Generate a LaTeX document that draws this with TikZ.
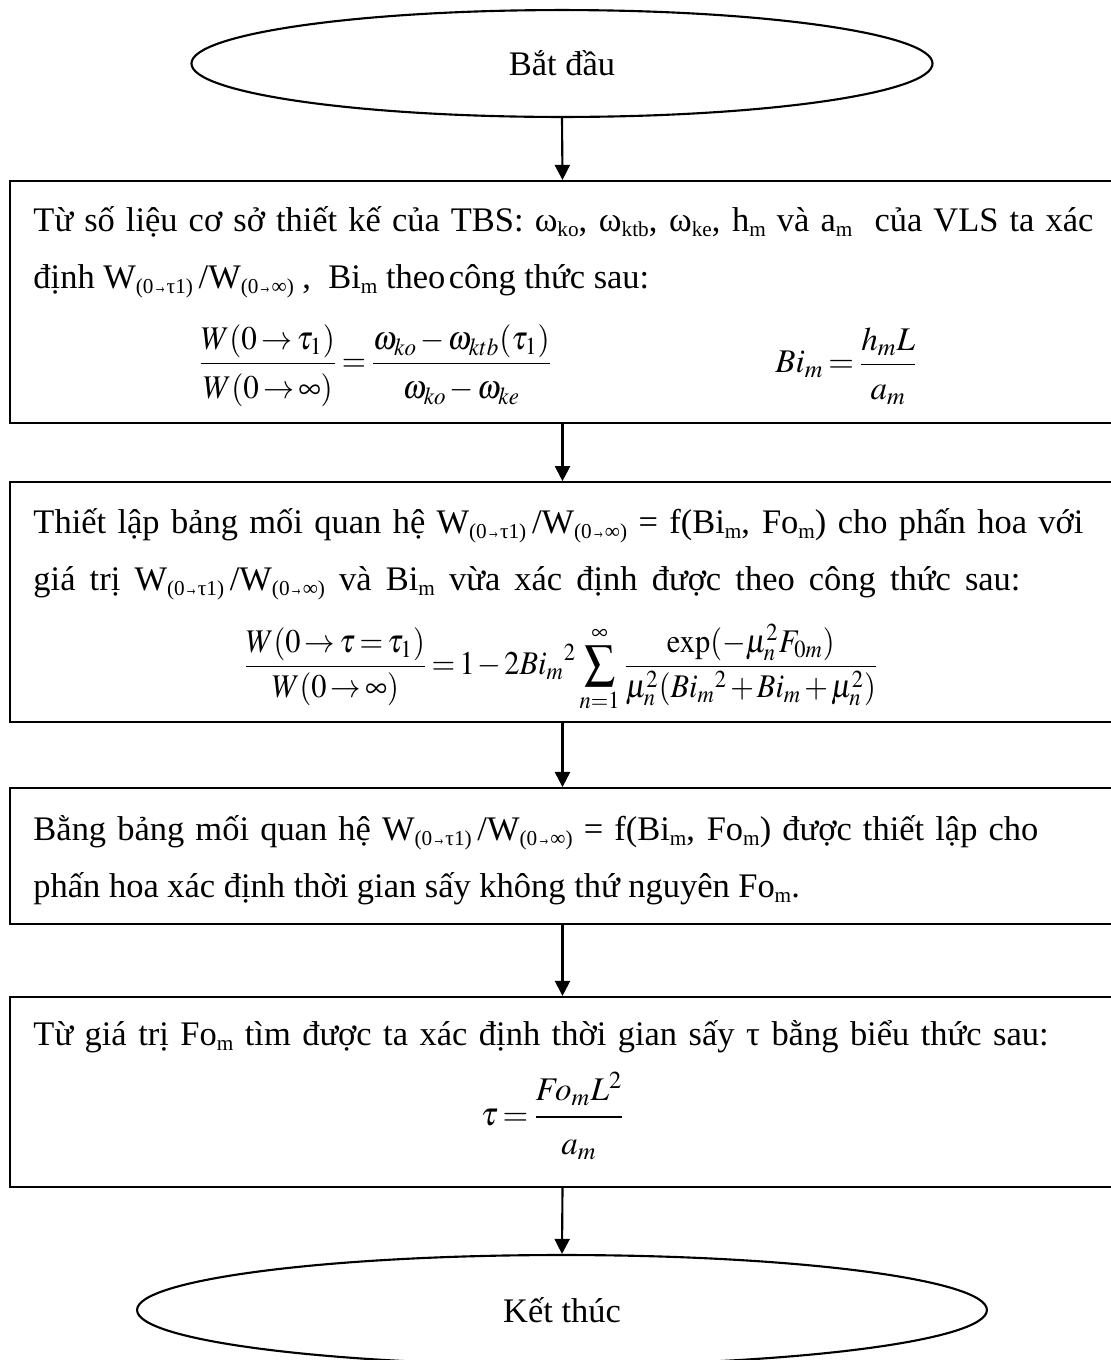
\documentclass[tikz,border=0pt]{standalone}
\usepackage{amsmath}
\usepackage{graphicx}
\usepackage{mathptmx}
\usepackage[no-math]{fontspec}
\setmainfont{Liberation Serif}
\usetikzlibrary{shapes.geometric,arrows.meta}
\newcommand\sbx[1]{\raisebox{-2.4pt}{\fontsize{9}{9}\selectfont #1}}
\newcommand\narr{\scalebox{0.62}[1]{→}}
\newcommand\Wratio{W\sbx{(0\narr τ1)}\,/W\sbx{(0\narr ∞)}}
\newcommand\jline[2]{\makebox[#1][s]{#2}}
\newcommand\tightmath{\thickmuskip=2.5mu\medmuskip=1.8mu\relax}
\begin{document}
\begin{tikzpicture}[x=0.4237pt,y=-0.4237pt,
  font=\fontsize{14.6}{24}\selectfont,
  every node/.style={inner sep=0pt},
  flowbox/.style={draw,line width=0.9pt,rectangle,minimum width=468.2pt},
  terminal/.style={draw,line width=0.9pt,ellipse},
  txt/.style={anchor=base west},
  mth/.style={font=\fontsize{14}{24}\selectfont},
  conn/.style={line width=0.9pt,-{Triangle[length=6.4pt,width=6.4pt]}}]
\useasboundingbox (0,0) rectangle (1111,1360);
\clip (0,0) rectangle (1111,1360);
% terminals
\node[terminal,minimum width=314pt,minimum height=45.3pt] (start) at (562,63.5) {Bắt đầu};
\node[terminal,minimum width=360.1pt,minimum height=46.6pt] (stop) at (562,1310) {Kết thúc};
% boxes
\node[flowbox,minimum height=102.5pt] (b1) at (562.5,302) {};
\node[flowbox,minimum height=101.5pt] (b2) at (562.5,602) {};
\node[flowbox,minimum height=57.5pt] (b3) at (562.5,856) {};
\node[flowbox,minimum height=80.5pt] (b4) at (562.5,1092) {};
% box 1 text
\node[txt] (t1a) at (33,231) {\jline{449.1pt}{Từ số liệu cơ sở thiết kế của TBS: ω\sbx{ko}, ω\sbx{ktb}, ω\sbx{ke}, h\sbx{m} và a\sbx{m}\ \ của VLS ta xác}};
\node[txt] (t1b) at (33,288) {định \Wratio\ ,\ \ Bi\sbx{m} theo\hspace{0.1em}công thức sau:};
\node[anchor=west,mth] (f1a) at (198,366) {\scalebox{0.94}[1]{\tightmath$\dfrac{W(0\to\tau_1)\rule[-3pt]{0pt}{0pt}}{\rule{0pt}{13pt}W(0\to\infty)}=\dfrac{\omega_{ko}-\omega_{ktb}(\tau_1)\rule[-3pt]{0pt}{0pt}}{\rule{0pt}{13pt}\omega_{ko}-\omega_{ke}}$}};
\node[anchor=west,mth] (f1b) at (775,366) {\tightmath$Bi_m=\dfrac{h_mL\rule[-3pt]{0pt}{0pt}}{\rule{0pt}{13pt}a_m}$};
% box 2 text
\node[txt] (t2a) at (33,533) {\jline{444.9pt}{Thiết lập bảng mối quan hệ \Wratio\ = f(Bi\sbx{m}, Fo\sbx{m}) cho phấn hoa với}};
\node[txt] (t2b) at (33,590) {\jline{418.2pt}{giá trị \Wratio\ và Bi\sbx{m} vừa xác định được theo công thức sau:}};
\node[mth] (f2) at (561,668) {\scalebox{0.92}[1]{\tightmath$\displaystyle\frac{W(0\to\tau=\tau_1)}{W(0\to\infty)}=1-2Bi_m{}^2\sum_{n=1}^{\infty}\frac{\exp(-\mu_n^2F_{0m})}{\mu_n^2(Bi_m{}^2+Bi_m+\mu_n^2)}$}};
% box 3 text
\node[txt] (t3a) at (33,840) {\jline{425.8pt}{Bằng bảng mối quan hệ \Wratio\ = f(Bi\sbx{m}, Fo\sbx{m}) được thiết lập cho}};
\node[txt] (t3b) at (33,897) {phấn hoa xác định thời gian sấy không thứ nguyên Fo\sbx{m}.};
% box 4 text
\node[txt] (t4a) at (33,1045) {\jline{430.1pt}{Từ giá trị Fo\sbx{m} tìm được ta xác định thời gian sấy τ bằng biểu thức sau:}};
\node[mth] (f4) at (553,1116) {\tightmath$\tau=\dfrac{Fo_mL^2\rule[-5pt]{0pt}{0pt}}{\rule{0pt}{14pt}a_m}$};
% connectors
\draw[conn] (start.south) -- (b1.north);
\draw[conn] (b1.south) -- (b2.north);
\draw[conn] (b2.south) -- (b3.north);
\draw[conn] (b3.south) -- (b4.north);
\draw[conn] (b4.south) -- (stop.north);
\end{tikzpicture}
\end{document}
